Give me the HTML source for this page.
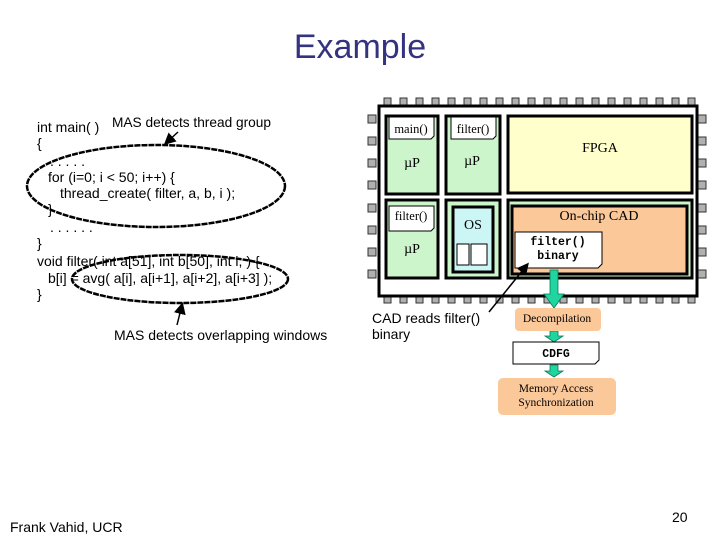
<!DOCTYPE html>
<html><head><meta charset="utf-8"><style>
body{margin:0;background:#fff;}
svg{display:block}
</style></head><body>
<svg width="720" height="540" viewBox="0 0 720 540" xmlns="http://www.w3.org/2000/svg">
<defs>
<marker id="ah" markerWidth="8" markerHeight="8" refX="6" refY="4" orient="auto"><path d="M0,0 L8,4 L0,8 z" fill="#000"/></marker>
</defs>
<text x="360" y="58" text-anchor="middle" font-family="Liberation Sans, sans-serif" font-size="34" fill="#333380">Example</text>

<g font-family="Liberation Sans, sans-serif" font-size="14" fill="#000">
<text x="37" y="132">int main( )</text>
<text x="112" y="127" font-size="13.7">MAS detects thread group</text>
<text x="37" y="148">{</text>
<text x="50" y="166">. . . . .</text>
<text x="48" y="182">for (i=0; i &lt; 50; i++) {</text>
<text x="60" y="198">thread_create( filter, a, b, i );</text>
<text x="48" y="214">}</text>
<text x="50" y="232">. . . . . .</text>
<text x="37" y="248">}</text>
<text x="37" y="266">void filter( int a[51], int b[50], int i, ) {</text>
<text x="48" y="283">b[i] = avg( a[i], a[i+1], a[i+2], a[i+3] );</text>
<text x="37" y="299">}</text>
<text x="114" y="340" font-size="14">MAS detects overlapping windows</text>
<text x="372" y="323">CAD reads filter()</text>
<text x="372" y="339">binary</text>
<text x="10" y="532">Frank Vahid, UCR</text>
<text x="672" y="522">20</text>
</g>
<ellipse cx="156" cy="186" rx="129" ry="41" fill="none" stroke="#000" stroke-width="2.5" stroke-dasharray="6 1"/>
<ellipse cx="180" cy="279" rx="108" ry="24" fill="none" stroke="#000" stroke-width="2.5" stroke-dasharray="6 1"/>
<line x1="178" y1="132" x2="166" y2="143" stroke="#000" stroke-width="1.5" marker-end="url(#ah)"/>
<line x1="177" y1="325" x2="182" y2="305" stroke="#000" stroke-width="1.5" marker-end="url(#ah)"/>

<g fill="#b0b0b0" stroke="#333" stroke-width="1">
<rect x="384" y="98" width="7" height="7"/><rect x="400" y="98" width="7" height="7"/><rect x="416" y="98" width="7" height="7"/><rect x="432" y="98" width="7" height="7"/><rect x="448" y="98" width="7" height="7"/><rect x="464" y="98" width="7" height="7"/><rect x="480" y="98" width="7" height="7"/><rect x="496" y="98" width="7" height="7"/><rect x="512" y="98" width="7" height="7"/><rect x="528" y="98" width="7" height="7"/><rect x="544" y="98" width="7" height="7"/><rect x="560" y="98" width="7" height="7"/><rect x="576" y="98" width="7" height="7"/><rect x="592" y="98" width="7" height="7"/><rect x="608" y="98" width="7" height="7"/><rect x="624" y="98" width="7" height="7"/><rect x="640" y="98" width="7" height="7"/><rect x="656" y="98" width="7" height="7"/><rect x="672" y="98" width="7" height="7"/><rect x="688" y="98" width="7" height="7"/>
<rect x="384" y="296" width="7" height="7"/><rect x="400" y="296" width="7" height="7"/><rect x="416" y="296" width="7" height="7"/><rect x="432" y="296" width="7" height="7"/><rect x="448" y="296" width="7" height="7"/><rect x="464" y="296" width="7" height="7"/><rect x="480" y="296" width="7" height="7"/><rect x="496" y="296" width="7" height="7"/><rect x="512" y="296" width="7" height="7"/><rect x="528" y="296" width="7" height="7"/><rect x="544" y="296" width="7" height="7"/><rect x="560" y="296" width="7" height="7"/><rect x="576" y="296" width="7" height="7"/><rect x="592" y="296" width="7" height="7"/><rect x="608" y="296" width="7" height="7"/><rect x="624" y="296" width="7" height="7"/><rect x="640" y="296" width="7" height="7"/><rect x="656" y="296" width="7" height="7"/><rect x="672" y="296" width="7" height="7"/><rect x="688" y="296" width="7" height="7"/>
<rect x="368" y="115" width="8" height="8"/><rect x="368" y="137" width="8" height="8"/><rect x="368" y="159" width="8" height="8"/><rect x="368" y="181" width="8" height="8"/><rect x="368" y="204" width="8" height="8"/><rect x="368" y="226" width="8" height="8"/><rect x="368" y="248" width="8" height="8"/><rect x="368" y="270" width="8" height="8"/>
<rect x="698" y="115" width="8" height="8"/><rect x="698" y="137" width="8" height="8"/><rect x="698" y="159" width="8" height="8"/><rect x="698" y="181" width="8" height="8"/><rect x="698" y="204" width="8" height="8"/><rect x="698" y="226" width="8" height="8"/><rect x="698" y="248" width="8" height="8"/><rect x="698" y="270" width="8" height="8"/>
</g>
<rect x="379" y="106" width="318" height="190" fill="#fff" stroke="#000" stroke-width="3"/>

<g stroke="#000" stroke-width="3">
<rect x="386" y="116" width="52" height="78" fill="#ccf5cc"/>
<rect x="446" y="116" width="54" height="78" fill="#ccf5cc"/>
<rect x="508" y="116" width="184" height="77" fill="#ffffcc"/>
<rect x="386" y="200" width="52" height="78" fill="#ccf5cc"/>
<rect x="446" y="200" width="54" height="78" fill="#ccf5cc"/>
<rect x="453" y="207" width="40" height="65" fill="#ccf5f5"/>
<rect x="508" y="200" width="184" height="78" fill="#ccf5cc"/>
<rect x="512" y="206" width="175" height="68" fill="#fbc89a"/>
</g>
<g stroke="#000" stroke-width="1" fill="#fff">
<path d="M389,117 H434 V136 L431,139 H389 Z"/>
<path d="M451,117 H496 V136 L493,139 H451 Z"/>
<path d="M389,206 H434 V228 L431,231 H389 Z"/>
<path d="M457,244 H469 V265 H457 Z"/>
<path d="M471,244 H487 V265 H471 Z"/>
<path d="M515,232 H602 V264 L598,268 H515 Z"/>
</g>
<g font-family="Liberation Serif, serif" font-size="12.5" fill="#000" text-anchor="middle">
<text x="411" y="133">main()</text>
<text x="473" y="133">filter()</text>
<text x="412" y="167" font-size="14">µP</text>
<text x="472" y="165" font-size="14">µP</text>
<text x="600" y="152" font-size="14">FPGA</text>
<text x="411" y="220">filter()</text>
<text x="412" y="253" font-size="14">µP</text>
<text x="473" y="229" font-size="14">OS</text>
<text x="599" y="220" font-size="14">On-chip CAD</text>
</g>
<g font-family="Liberation Mono, monospace" font-size="11.5" font-weight="bold" text-anchor="middle">
<text x="558" y="245">filter()</text>
<text x="558" y="259">binary</text>
</g>
<line x1="489" y1="312" x2="527" y2="265" stroke="#000" stroke-width="1.5" marker-end="url(#ah)"/>

<g fill="#1fd5a0" stroke="#0a7a5a" stroke-width="0.8">
<path d="M550,270 H558 V294 H564 L554,308 L544,294 H550 Z"/>
<path d="M550,331 H558 V336 H563 L554,342 L545,336 H550 Z"/>
<path d="M550,365 H558 V371 H563 L554,377 L545,371 H550 Z"/>
</g>
<rect x="515" y="308" width="86" height="23" rx="4" fill="#fbc89a"/>
<path d="M513,342 H599 V360 L595,364 H513 Z" fill="#fff" stroke="#000" stroke-width="1"/>
<rect x="498" y="378" width="118" height="37" rx="5" fill="#fbc89a"/>
<g font-family="Liberation Serif, serif" font-size="11.5" text-anchor="middle">
<text x="557" y="322">Decompilation</text>
<text x="556" y="392">Memory Access</text>
<text x="556" y="406">Synchronization</text>
</g>
<text x="556" y="357" font-family="Liberation Mono, monospace" font-size="11.5" font-weight="bold" text-anchor="middle">CDFG</text>
</svg>
</body></html>
